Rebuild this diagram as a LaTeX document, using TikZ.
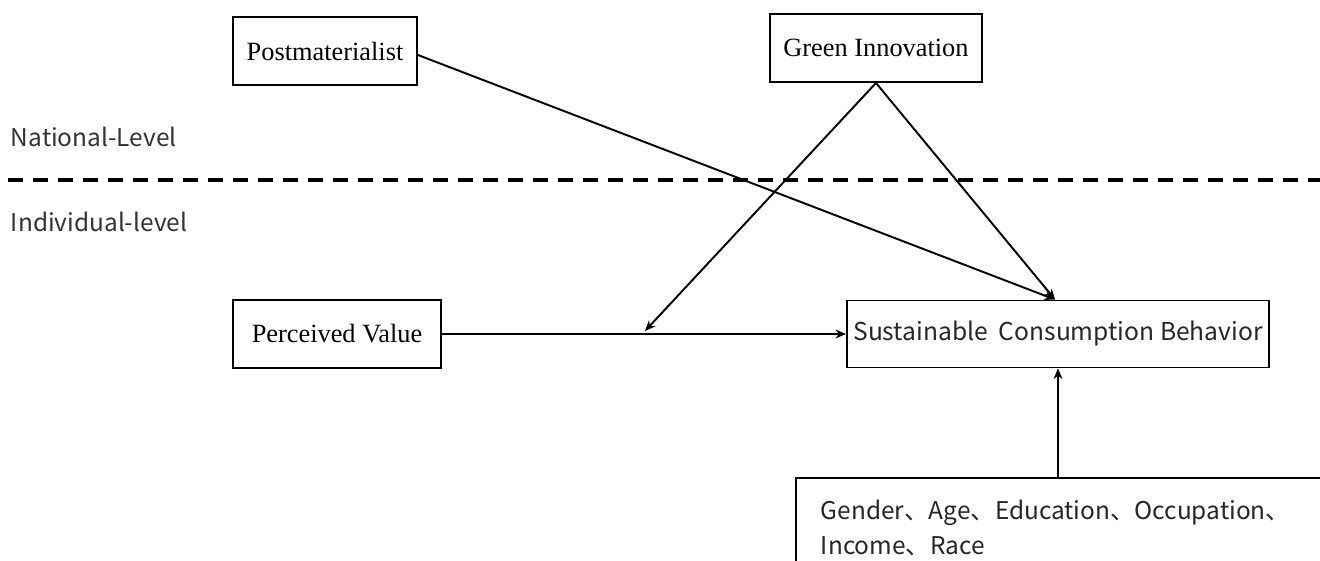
\documentclass[tikz,border=0pt]{standalone}
\usepackage{fontspec}
\usetikzlibrary{arrows.meta}
\setmainfont{Liberation Serif}
\newfontfamily\cjk{Noto Sans CJK SC}
\tikzset{
  serifbox/.style={draw, line width=1.1pt, minimum height=1.36cm, inner sep=0pt, font=\fontsize{15}{18}\selectfont},
  sansbox/.style={draw, line width=1.1pt, minimum height=1.34cm, inner sep=0pt, font=\cjk\fontsize{14}{18}\selectfont, text=black!85},
  levellabel/.style={anchor=west, inner sep=0pt, font=\cjk\fontsize{13.9}{18}\selectfont, text=black!80}
}
\begin{document}
\begin{tikzpicture}[x=0.02cm, y=-0.02cm, >={Stealth[length=6pt,width=5pt]}, line width=1.1pt]
  \useasboundingbox (0,0) rectangle (1320,561);
  \clip (0,0) rectangle (1320,561);

  % 层级标签与分隔线
  \node[levellabel] (national) at (10,137) {National-Level};
  \node[levellabel] (individual) at (10,222) {Individual-level};
  \draw[line width=1.8pt, dash pattern=on 0.3cm off 0.2cm] (8,180) -- (1320,180);

  % 变量框
  \node[serifbox, minimum width=3.68cm] (post) at (325,51) {Postmaterialist};
  \node[serifbox, minimum width=4.24cm] (green) at (876,48) {Green Innovation};
  \node[serifbox, minimum width=4.16cm] (value) at (337,334) {Perceived Value};
  \node[sansbox, minimum width=8.44cm] (scb) at (1058,334) {Sustainable\ \ Consumption Behavior};
  \node[draw, line width=1.1pt, anchor=north west, minimum width=11cm, minimum height=2cm,
        inner xsep=0.5cm, inner ysep=0.05cm, text width=10cm, align=left, text=black!85,
        font=\cjk\fontsize{13.9}{19.5}\selectfont] (ctrl) at (795,477)
        {Gender、Age、Education、Occupation、\\Income、Race};

  % 调节效应的落点
  \coordinate (mod) at (645,331);

  % 箭头
  \draw[->] (value.east) -- (scb.west);
  \draw[->] (post.east |- 0,55) -- (scb.north -| 1055,0);
  \draw[->] (green.south) -- (scb.north -| 1055,0);
  \draw[->] (green.south) -- (mod);
  \draw[->] (ctrl.north -| scb.south) -- (scb.south);
\end{tikzpicture}
\end{document}
